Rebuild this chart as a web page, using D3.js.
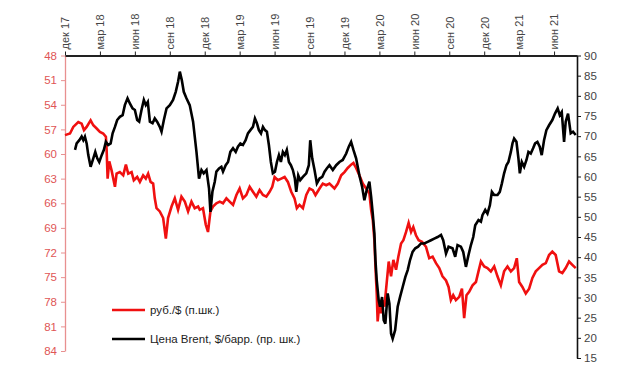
<!DOCTYPE html>
<html lang="ru">
<head>
<meta charset="UTF-8">
<title>Рубль и Brent</title>
<style>
    body { margin: 0; background: #fff; }
    text { font-family: "Liberation Sans", Arial, sans-serif; font-size: 11px; }
    .line { fill: none; stroke-width: 2.6px; stroke-linejoin: miter; }
</style>
<script src="https://d3js.org/d3.v7.min.js"></script>
</head>
<body>
<svg width="620" height="385"></svg>
<script>
// x = months since Dec 2017
const quarterTicks = [0, 3, 6, 9, 12, 15, 18, 21, 24, 27, 30, 33, 36, 39, 42];
const quarterLabels = ["дек 17", "мар 18", "июн 18", "сен 18", "дек 18", "мар 19", "июн 19", "сен 19",
    "дек 19", "мар 20", "июн 20", "сен 20", "дек 20", "мар 21", "июн 21"];
const rubTicks = [48, 51, 54, 57, 60, 63, 66, 69, 72, 75, 78, 81, 84];
const brentTicks = [15, 20, 25, 30, 35, 40, 45, 50, 55, 60, 65, 70, 75, 80, 85, 90];

// руб./$ (левая шкала)
const rub = [[0,57.7],[0.43,57.5],[0.71,56.7],[1.14,56.1],[1.43,56.3],[1.63,57.1],[1.86,56.7],[2.20,55.9],
    [2.43,56.5],[2.72,56.9],[3.00,57.3],[3.28,57.5],[3.51,57.9],[3.57,59.3],[3.66,63.0],[3.80,60.9],[4.00,62.0],
    [4.29,64.0],[4.43,62.4],[4.71,62.2],[5.00,62.6],[5.23,61.3],[5.43,62.4],[5.72,62.2],[5.91,63.2],[6.20,62.8],
    [6.43,63.4],[6.71,62.6],[6.94,63.0],[7.14,62.4],[7.35,63.4],[7.57,63.6],[7.71,65.4],[7.86,66.6],[8.14,67.0],
    [8.43,67.8],[8.66,70.3],[8.85,67.8],[9.15,66.4],[9.43,65.4],[9.71,66.8],[10.00,65.2],[10.29,65.8],[10.57,67.0],
    [10.86,65.8],[11.14,66.6],[11.43,66.4],[11.57,66.8],[11.85,66.6],[12.09,68.6],[12.28,69.5],[12.49,67.0],
    [12.71,66.4],[13.00,66.0],[13.29,65.8],[13.57,66.0],[13.86,65.4],[14.14,65.8],[14.43,66.2],[14.72,65.0],
    [15.00,64.2],[15.28,65.4],[15.57,65.0],[15.86,64.0],[16.14,64.6],[16.43,65.2],[16.71,64.4],[17.00,65.0],
    [17.29,65.2],[17.57,64.6],[17.80,64.0],[18.00,62.8],[18.28,63.2],[18.57,63.0],[18.86,62.8],[19.14,63.4],
    [19.43,64.6],[19.71,65.4],[19.91,66.6],[20.14,66.2],[20.43,66.6],[20.72,65.0],[21.00,64.2],[21.28,64.4],
    [21.51,65.0],[21.86,64.2],[22.14,63.6],[22.43,63.8],[22.71,63.6],[23.14,64.2],[23.43,63.6],[23.72,62.6],
    [24.00,62.2],[24.28,61.7],[24.57,61.3],[24.77,61.1],[25.00,61.7],[25.28,62.6],[25.57,63.6],[25.86,64.2],
    [26.14,64.8],[26.29,66.8],[26.43,68.0],[26.57,70.5],[26.66,73.7],[26.77,77.0],[26.85,80.4],[27.00,78.2],
    [27.15,79.4],[27.28,77.8],[27.43,78.6],[27.62,75.8],[27.80,73.1],[28.00,74.9],[28.20,72.9],[28.43,74.1],
    [28.63,72.5],[28.86,70.9],[29.06,70.5],[29.29,69.5],[29.51,68.4],[29.72,69.5],[29.91,68.9],[30.14,69.9],
    [30.37,70.5],[30.66,70.7],[31.00,71.3],[31.28,72.7],[31.57,72.5],[31.86,73.3],[32.14,73.9],[32.42,74.9],
    [32.72,75.4],[32.94,76.2],[33.14,77.8],[33.34,77.2],[33.57,77.8],[33.86,77.4],[34.09,76.4],[34.28,80.0],
    [34.48,77.2],[34.71,76.8],[35.00,76.0],[35.29,75.6],[35.51,74.3],[35.72,73.1],[36.00,73.7],[36.28,73.9],
    [36.57,74.3],[36.86,73.7],[37.14,74.9],[37.43,76.0],[37.71,74.3],[38.00,73.7],[38.29,74.3],[38.57,73.9],
    [38.80,72.7],[39.00,75.6],[39.28,76.2],[39.57,77.0],[39.86,76.4],[40.14,75.1],[40.43,74.3],[40.71,73.9],
    [41.00,73.5],[41.29,73.3],[41.57,72.3],[41.85,71.9],[42.14,72.3],[42.43,74.3],[42.71,74.5],[43.00,73.9],
    [43.29,73.1],[43.57,73.5],[43.86,73.9]];

// Brent, $/барр. (правая шкала)
const brent = [[0.86,66.6],[1.00,68.2],[1.23,69.0],[1.43,69.9],[1.57,69.0],[1.71,69.9],[1.86,68.2],[2.00,65.3],
    [2.20,62.4],[2.43,64.5],[2.60,66.1],[2.77,64.5],[2.94,63.6],[3.15,65.3],[3.34,66.6],[3.51,68.6],[3.71,67.8],
    [3.92,68.2],[4.09,70.7],[4.29,72.3],[4.48,74.0],[4.71,74.8],[4.95,75.2],[5.14,77.7],[5.37,79.4],[5.57,78.1],
    [5.80,76.9],[6.00,76.5],[6.20,74.0],[6.37,73.6],[6.57,76.5],[6.77,79.0],[6.94,77.7],[7.11,78.5],[7.29,73.6],
    [7.52,73.2],[7.71,74.4],[7.91,73.6],[8.14,72.3],[8.29,71.1],[8.49,74.0],[8.72,76.9],[9.00,77.7],[9.28,79.0],
    [9.51,81.0],[9.71,83.5],[9.86,86.0],[10.03,83.9],[10.20,81.0],[10.43,79.4],[10.71,77.7],[11.00,73.6],
    [11.29,66.1],[11.51,59.5],[11.72,61.6],[11.91,60.8],[12.15,61.6],[12.37,57.0],[12.49,51.2],[12.66,56.2],
    [12.86,58.7],[13.00,61.2],[13.23,62.0],[13.43,62.4],[13.57,61.2],[13.80,62.8],[14.00,63.6],[14.20,66.1],
    [14.43,67.0],[14.66,66.1],[14.85,67.4],[15.06,68.2],[15.28,67.8],[15.51,69.0],[15.71,70.7],[15.92,71.5],
    [16.14,72.3],[16.31,74.4],[16.48,73.2],[16.65,71.5],[16.83,70.7],[17.00,72.3],[17.17,71.5],[17.34,71.1],
    [17.51,67.8],[17.68,63.6],[17.85,60.8],[18.03,61.2],[18.20,63.6],[18.37,65.3],[18.54,63.6],[18.71,66.1],
    [18.88,65.3],[19.05,66.6],[19.23,63.6],[19.40,62.8],[19.57,61.6],[19.74,59.5],[19.86,56.2],[20.03,60.3],
    [20.20,59.1],[20.43,59.9],[20.72,60.8],[20.94,62.8],[21.06,69.0],[21.23,64.5],[21.43,61.6],[21.63,58.3],
    [21.86,59.5],[22.09,59.9],[22.29,61.2],[22.48,62.0],[22.71,62.8],[23.00,61.6],[23.29,62.8],[23.57,63.6],
    [23.85,64.1],[24.15,65.7],[24.37,67.4],[24.57,68.6],[24.77,66.6],[25.00,64.5],[25.28,60.3],[25.52,57.4],
    [25.71,54.1],[25.91,56.6],[26.14,58.7],[26.29,55.0],[26.43,50.8],[26.57,45.9],[26.66,39.3],[26.77,34.3],
    [26.94,29.3],[27.06,27.7],[27.23,30.1],[27.37,24.4],[27.51,23.5],[27.71,31.0],[27.86,28.5],[28.00,21.1],
    [28.14,19.8],[28.35,21.9],[28.57,27.7],[28.77,30.1],[29.00,32.6],[29.23,35.1],[29.43,36.8],[29.63,39.3],
    [29.85,41.3],[30.08,42.2],[30.32,42.6],[30.57,43.4],[30.86,43.4],[31.14,43.8],[31.43,44.2],[31.71,44.6],
    [32.00,45.0],[32.29,45.5],[32.48,44.2],[32.72,40.9],[32.94,42.6],[33.28,42.2],[33.51,40.1],[33.71,43.0],
    [34.00,42.6],[34.20,41.3],[34.43,37.6],[34.65,40.5],[34.86,43.0],[35.06,45.0],[35.23,47.9],[35.51,49.2],
    [35.72,48.8],[35.85,50.4],[36.09,51.7],[36.28,50.8],[36.49,52.9],[36.66,56.2],[36.86,55.4],[37.14,55.4],
    [37.34,56.2],[37.52,58.3],[37.71,60.8],[37.91,62.8],[38.08,63.6],[38.29,66.1],[38.43,68.2],[38.57,69.4],
    [38.77,68.6],[38.94,64.5],[39.06,60.8],[39.23,63.6],[39.43,62.4],[39.63,64.1],[39.80,66.1],[40.00,65.7],
    [40.20,67.0],[40.37,68.2],[40.57,68.6],[40.77,67.4],[40.94,65.3],[41.14,69.0],[41.34,71.5],[41.57,72.7],
    [41.85,74.0],[42.08,75.6],[42.31,76.9],[42.49,75.2],[42.66,76.0],[42.86,68.6],[43.00,73.6],[43.20,75.6],
    [43.43,70.7],[43.63,71.1],[43.86,70.3]];

const svg = d3.select("svg");
const plotLeft = 65, plotRight = 577, plotTop = 55.5;

const x = d3.scaleLinear().domain([0, 43.97]).range([plotLeft, plotRight]);
const yRub = d3.scaleLinear().domain([48, 84]).range([plotTop, 351]);
const yBrent = d3.scaleLinear().domain([15, 90]).range([358, plotTop]);

// left axis (руб./$)
const gL = svg.append("g")
    .attr("transform", `translate(${plotLeft},0)`)
    .call(d3.axisLeft(yRub).tickValues(rubTicks).tickSize(4).tickSizeOuter(0).tickPadding(4));
gL.select(".domain").attr("stroke", "#e89090").attr("stroke-width", 1.3);
gL.selectAll(".tick line").attr("stroke", "#e89090");
gL.selectAll(".tick text").attr("fill", "#e05555").style("font-size", "11.5px");

// right axis (Brent)
const gR = svg.append("g")
    .attr("transform", `translate(${plotRight},0)`)
    .call(d3.axisRight(yBrent).tickValues(brentTicks).tickSize(4).tickSizeOuter(0).tickPadding(3));
gR.select(".domain").attr("stroke", "#111").attr("stroke-width", 1.6);
gR.selectAll(".tick line").attr("stroke", "#111");
gR.selectAll(".tick text").attr("fill", "#444").style("font-size", "11.5px");

// top axis (quarters)
const gT = svg.append("g")
    .attr("transform", `translate(0,${plotTop})`)
    .call(d3.axisTop(x).tickValues(quarterTicks).tickFormat((d, i) => quarterLabels[i]).tickSize(4).tickSizeOuter(0));
gT.select(".domain").attr("stroke", "#222").attr("stroke-width", 2);
gT.selectAll(".tick line").attr("stroke", "#222");
gT.selectAll(".tick text")
    .attr("fill", "#444")
    .attr("transform", "rotate(-90)")
    .attr("text-anchor", "start")
    .attr("x", 6)
    .attr("y", 0)
    .attr("dy", "0.35em");

// lines
const rubLine = d3.line().x(d => x(d[0])).y(d => yRub(d[1]));
const brentLine = d3.line().x(d => x(d[0])).y(d => yBrent(d[1]));

svg.append("path").datum(rub).attr("class", "line").attr("stroke", "#f01010").attr("d", rubLine);
svg.append("path").datum(brent).attr("class", "line").attr("stroke", "#000").attr("d", brentLine);

// legend
const legend = [
    { label: "руб./$ (п.шк.)", color: "#f01010", y: 310 },
    { label: "Цена Brent, $/барр. (пр. шк.)", color: "#000", y: 339 }
];
const lg = svg.append("g").selectAll("g").data(legend).enter().append("g")
    .attr("transform", d => `translate(112,${d.y})`);
lg.append("line").attr("x1", 0).attr("x2", 33).attr("stroke", d => d.color).attr("stroke-width", 2.3);
lg.append("text").attr("x", 38).attr("dy", "0.35em").attr("fill", "#222").style("font-size", "11.5px").text(d => d.label);
</script>
</body>
</html>
